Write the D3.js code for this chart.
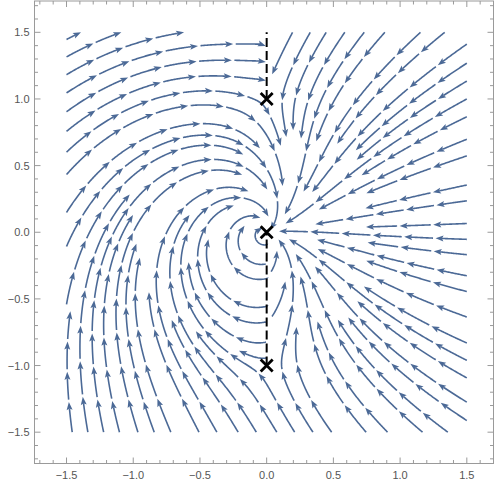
<!DOCTYPE html>
<html><head><meta charset="utf-8">
<script src="https://cdn.jsdelivr.net/npm/d3@7"></script>
<style>body{margin:0;background:#fff}</style>
</head><body>
<svg id="chart" width="500" height="488"></svg>
<script>
// Singular points (marked with crosses) and the field exponents at each point
const branchPoints = [[0,0],[0,1],[0,-1]];
const exponents = [1.4,-0.32,-0.4];
// Dashed branch cuts: [x, y0, y1]
const cuts = [[0,1,1.5],[0,-1,0]];
const xTicks = [-1.5,-1,-0.5,0,0.5,1,1.5];
const yTicks = [-1.5,-1,-0.5,0,0.5,1,1.5];
const xTickLabels = ["\u22121.5","\u22121.0","\u22120.5","0.0","0.5","1.0","1.5"];
const yTickLabels = ["\u22121.5","\u22121.0","\u22120.5","0.0","0.5","1.0","1.5"];
const fieldBox = [-1.5,1.5];
const domainX=[-1.74,1.70], domainY=[-1.735,1.735];
const LINE="#4b6996";

function argUp(dx,dy){let a=Math.atan2(dy,dx)*180/Math.PI; if(a>90)a-=360; return a;}
function makeVec(exps){
  const raw=(x,y)=>{let s=0;for(let k=0;k<branchPoints.length;k++)s+=exps[k]*argUp(x-branchPoints[k][0],y-branchPoints[k][1]);return s;};
  const phi=180-raw(1.5,0);
  return (x,y)=>{const d=(raw(x,y)+phi)*Math.PI/180;return [Math.cos(d),Math.sin(d)];};
}
function computeStreamlines(vec,dsep){
  const dtest=dsep*0.5,h=dsep*0.06,B=fieldBox[1],cs=dsep;
  const grid=new Map();const key=(i,j)=>i*10000+j;
  const cellOf=(x,y)=>[Math.floor((x+B+1)/cs),Math.floor((y+B+1)/cs)];
  function ok(x,y,d){const [i,j]=cellOf(x,y);const r=Math.ceil(d/cs);
    for(let di=-r;di<=r;di++)for(let dj=-r;dj<=r;dj++){const a=grid.get(key(i+di,j+dj));if(!a)continue;
      for(const p of a){const dx=p[0]-x,dy=p[1]-y;if(dx*dx+dy*dy<d*d)return false;}}return true;}
  function add(pts){for(const p of pts){const [i,j]=cellOf(p[0],p[1]);const k=key(i,j);if(!grid.has(k))grid.set(k,[]);grid.get(k).push(p);}}
  function nearSing(x,y){for(const b of branchPoints)if(Math.hypot(x-b[0],y-b[1])<0.03)return true;return false;}
  function crossesCut(x0,y0,x1,y1){if((x0<0)===(x1<0))return false;const t=x0/(x0-x1);const yc=y0+t*(y1-y0);
    for(const c of cuts){if(yc>c[1]&&yc<c[2]+0.5*(c[2]>1))return true;}return false;}
  function trace(sx,sy,sign,other){
    const pts=[];let x=sx,y=sy;const skip=Math.ceil(3*dsep/h);
    for(let s=0;s<3000;s++){
      const v1=vec(x,y);const mx=x+sign*v1[0]*h/2,my=y+sign*v1[1]*h/2;const v2=vec(mx,my);
      let nx=x+sign*v2[0]*h,ny=y+sign*v2[1]*h;
      if(crossesCut(x,y,nx,ny))break;
      if(nx<-B||nx>B||ny<-B||ny>B){let t=1;
        if(nx<-B)t=Math.min(t,(-B-x)/(nx-x));if(nx>B)t=Math.min(t,(B-x)/(nx-x));
        if(ny<-B)t=Math.min(t,(-B-y)/(ny-y));if(ny>B)t=Math.min(t,(B-y)/(ny-y));
        const cx=x+t*(nx-x),cy=y+t*(ny-y);if(ok(cx,cy,dtest))pts.push([cx,cy]);break;}
      if(nearSing(nx,ny))break;
      if(!ok(nx,ny,dtest))break;
      let loop=false;
      for(let q=0;q<pts.length-skip;q++){const p=pts[q];if((p[0]-nx)**2+(p[1]-ny)**2<dtest*dtest){loop=true;break;}}
      if(!loop&&other){for(let q=skip;q<other.length;q++){const p=other[q];if((p[0]-nx)**2+(p[1]-ny)**2<dtest*dtest){loop=true;break;}}}
      if(loop)break;
      pts.push([nx,ny]);x=nx;y=ny;
    }
    return pts;
  }
  const lines=[];const queue=[];
  function process(sx,sy){
    if(sx<-B||sx>B||sy<-B||sy>B)return;
    if(!ok(sx,sy,dsep)||nearSing(sx,sy))return;
    const f=trace(sx,sy,1,null);const b=trace(sx,sy,-1,f);
    const pts=b.reverse().concat([[sx,sy]],f);
    let L=0;for(let i=1;i<pts.length;i++)L+=Math.hypot(pts[i][0]-pts[i-1][0],pts[i][1]-pts[i-1][1]);
    if(L<dsep*0.8)return;
    add(pts);lines.push(pts);
    for(let i=0;i<pts.length-1;i+=3){const p=pts[i],q=pts[i+1];const tx=q[0]-p[0],ty=q[1]-p[1];const l=Math.hypot(tx,ty)||1;
      const nx=-ty/l,ny=tx/l;queue.push([p[0]+nx*dsep,p[1]+ny*dsep]);queue.push([p[0]-nx*dsep,p[1]-ny*dsep]);}
  }
  function drain(){while(queue.length){const s=queue.shift();process(s[0],s[1]);}}
  process(-1.45,0);drain();
  for(let gx=-1.45;gx<=1.45;gx+=dsep)for(let gy=-1.45;gy<=1.45;gy+=dsep){process(gx,gy);drain();}
  return lines;
}
function drawLines(g,lines,x,y,Lpx,gap,head,hw,lw){
  for(const pts of lines){
    const P=pts.map(p=>[x(p[0]),y(p[1])]);
    const cum=[0];for(let i=1;i<P.length;i++)cum.push(cum[i-1]+Math.hypot(P[i][0]-P[i-1][0],P[i][1]-P[i-1][1]));
    const T=cum[cum.length-1];if(T<6)continue;
    const n=Math.max(1,Math.round(T/Lpx));const seg=T/n;
    const at=s=>{let i=d3.bisectLeft(cum,s);if(i<=0)return P[0];if(i>=P.length)return P[P.length-1];
      const t=(s-cum[i-1])/(cum[i]-cum[i-1]||1);return [P[i-1][0]+t*(P[i][0]-P[i-1][0]),P[i-1][1]+t*(P[i][1]-P[i-1][1])];};
    for(let k=0;k<n;k++){
      const s0=k*seg+(k>0?gap:0),s1=(k+1)*seg;
      if(s1-s0<head)continue;
      const sb=s1-head*0.8;
      const arr=[at(s0)];for(let i=0;i<P.length;i++)if(cum[i]>s0&&cum[i]<sb)arr.push(P[i]);arr.push(at(sb));
      g.append("path").attr("d",d3.line()(arr)).attr("fill","none").attr("stroke",LINE).attr("stroke-width",lw).attr("stroke-linecap","butt");
      const tip=at(s1),bs=at(s1-head);let dx=tip[0]-bs[0],dy=tip[1]-bs[1];const l=Math.hypot(dx,dy)||1;dx/=l;dy/=l;
      const bx=tip[0]-dx*head,by=tip[1]-dy*head;
      g.append("path").attr("d",`M${tip[0]},${tip[1]}L${bx-dy*hw},${by+dx*hw}L${bx+dx*head*0.2},${by+dy*head*0.2}L${bx+dy*hw},${by-dx*hw}Z`).attr("fill",LINE);
    }
  }
}
const svg=d3.select("#chart");
const L=34.5,R=493.5,T=1,Bt=463.5;
const x=d3.scaleLinear().domain(domainX).range([L,R]);
const y=d3.scaleLinear().domain(domainY).range([Bt,T]);
const gl=svg.append("g");
const lines=computeStreamlines(makeVec(exponents),0.115);
drawLines(gl,lines,x,y,34,2.5,8,3,1.6);
// cuts
const gc=svg.append("g");
for(const c of cuts){gc.append("line").attr("x1",x(c[0])).attr("x2",x(c[0])).attr("y1",y(c[1])).attr("y2",y(c[2]))
  .attr("stroke","#000").attr("stroke-width",2).attr("stroke-dasharray","9,4");}
for(const b of branchPoints){gc.append("path").attr("d",`M${x(b[0])-6},${y(b[1])-6}l12,12m0,-12l-12,12`).attr("stroke","#000").attr("stroke-width",2.8);}
// frame and ticks
const ga=svg.append("g").attr("stroke","#9a9a9a").attr("fill","none");
ga.append("rect").attr("x",L).attr("y",T).attr("width",R-L).attr("height",Bt-T).attr("stroke-width",1);
const minor=d3.range(-17,18).map(d=>d/10);
for(const v of minor){
  const major=Math.abs(v*2-Math.round(v*2))<1e-6;const len=major?6:3.5;
  if(v>=domainX[0]&&v<=domainX[1]){const px=x(v);
    ga.append("line").attr("x1",px).attr("x2",px).attr("y1",Bt).attr("y2",Bt-len);
    ga.append("line").attr("x1",px).attr("x2",px).attr("y1",T).attr("y2",T+len);}
  if(v>=domainY[0]&&v<=domainY[1]){const py=y(v);
    ga.append("line").attr("y1",py).attr("y2",py).attr("x1",L).attr("x2",L+len);
    ga.append("line").attr("y1",py).attr("y2",py).attr("x1",R).attr("x2",R-len);}
}
const gt=svg.append("g").attr("font-family","'Liberation Sans', Arial, sans-serif").attr("font-size",11).attr("fill","#555");
xTicks.forEach((v,i)=>gt.append("text").attr("x",x(v)).attr("y",Bt+15).attr("text-anchor","middle").text(xTickLabels[i]));
yTicks.forEach((v,i)=>gt.append("text").attr("x",L-5).attr("y",y(v)+4).attr("text-anchor","end").text(yTickLabels[i]));
</script></body></html>
